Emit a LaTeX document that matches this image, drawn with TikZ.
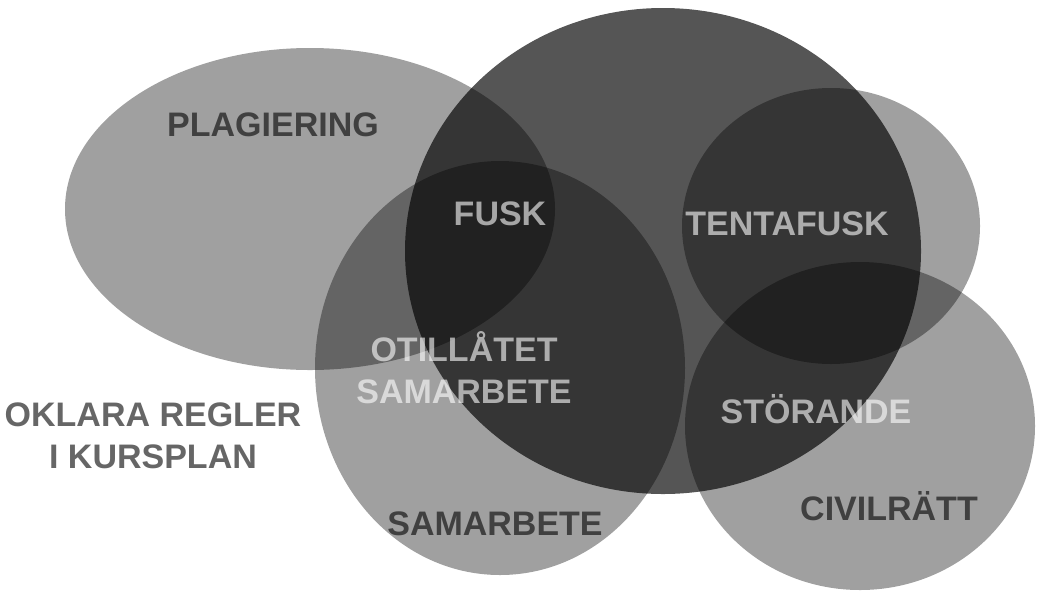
\documentclass[tikz,border=0pt]{standalone}
\usepackage{fontspec}
\setmainfont{Liberation Sans}
\usepackage{tikz}

\tikzset{
  lightblob/.style={fill=black,fill opacity=0.373},
  darkblob/.style={fill=black,fill opacity=0.667},
  darktxt/.style={text=black,text opacity=0.6,font=\fontsize{17}{20}\selectfont\bfseries},
  lighttxt/.style={text=white,text opacity=0.6,font=\fontsize{17}{20}\selectfont\bfseries}
}

\begin{document}
\begin{tikzpicture}[x=0.5pt,y=-0.5pt]
        \useasboundingbox (0,0) rectangle (1037,590);
        % the five sets
        \fill[lightblob] (310,209) ellipse [x radius=245,y radius=161];
        \fill[darkblob] (663,251) ellipse [x radius=258,y radius=243];
        \fill[lightblob] (500,368) ellipse [x radius=185,y radius=207];
        \fill[lightblob] (831,226) ellipse [x radius=149,y radius=138];
        \fill[lightblob] (860,426) ellipse [x radius=175,y radius=164];
        % labels
        \node[darktxt] (plag) at (273,125) {PLAGIERING};
        \node[lighttxt] (fusk) at (500,214) {FUSK};
        \node[lighttxt] (tenta) at (787,224) {TENTAFUSK};
        \node[lighttxt] (otill) at (464,368) [align=center] {OTILLÅTET\\[1pt]SAMARBETE};
        \node[lighttxt] (stor) at (816,409) {STÖRANDE};
        \node[darktxt] (civil) at (889,506) {CIVILRÄTT};
        \node[darktxt] (oklar) at (153,436) [align=center] {OKLARA REGLER\\[1pt]I KURSPLAN};
        \node[darktxt] (samarb) at (495,524) {SAMARBETE};
\end{tikzpicture}
\end{document}
